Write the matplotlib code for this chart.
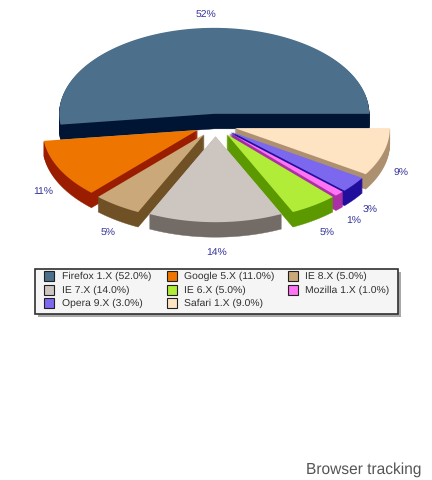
#!/usr/bin/env python3
import numpy as np
import matplotlib
matplotlib.use('Agg')
import matplotlib.pyplot as plt
from matplotlib.patches import Polygon, Rectangle

plt.rcParams['font.family'] = ['Liberation Sans', 'DejaVu Sans']
plt.rcParams['text.hinting'] = 'no_hinting'

browsers = ['Firefox 1.X', 'Google 5.X', 'IE 8.X', 'IE 7.X', 'IE 6.X', 'Mozilla 1.X', 'Opera 9.X', 'Safari 1.X']
shares = [52.0, 11.0, 5.0, 14.0, 5.0, 1.0, 3.0, 9.0]
top_colors = ['#4C708C', '#EE7600', '#CBA87A', '#CCC5C0', '#B0EC38', '#FF73F4', '#7B68EE', '#FFE4C4']
side_colors = ['#001533', '#9B1D00', '#6F5125', '#736B66', '#5C9900', '#AB2FA5', '#220E9C', '#AD9070']

# pie geometry, in pixels
cx, cy = 215.5, 125
rx, ry = 155, 86
explode = 0.13
depth = 15

label_xy = [(206, 15), (43, 192), (108, 233), (217, 253), (327, 233), (354, 221), (370, 210), (401, 173)]
legend_cols = [(44, 62), (167, 184), (288, 305)]
legend_rows = [276, 290, 303]


def wedge(a0, a1, dy=0):
    mid = np.radians((a0 + a1) / 2)
    x0 = cx + explode * rx * np.cos(mid)
    y0 = cy - explode * ry * np.sin(mid) + dy
    t = np.radians(np.linspace(a0, a1, 120))
    xs = np.r_[x0, x0 + rx * np.cos(t)]
    ys = np.r_[y0, y0 - ry * np.sin(t)]
    return np.column_stack([xs, ys])


fig = plt.figure(figsize=(4.32, 4.8), dpi=100)
ax = fig.add_axes([0, 0, 1, 1])
ax.set_xlim(0, 432)
ax.set_ylim(480, 0)
ax.axis('off')

edges = np.r_[0, np.cumsum(shares)] / 100 * 360
# the pie starts at 3 o'clock and the slices run counter-clockwise
slices = [(edges[i], edges[i + 1], i) for i in range(len(shares))]
# far slices first so the near ones sit on top
slices.sort(key=lambda s: -np.sin(np.radians((s[0] + s[1]) / 2)))

for a0, a1, i in slices:
    for d in range(depth, 0, -1):
        ax.add_patch(Polygon(wedge(a0, a1, d), closed=True, fc=side_colors[i], ec=side_colors[i], lw=0.3))
    ax.add_patch(Polygon(wedge(a0, a1), closed=True, fc=top_colors[i], ec='none'))

for (x, y), v in zip(label_xy, shares):
    ax.text(x, y, '%d%%' % v, color='#33339A', fontsize=7.5, ha='center', va='center')

# legend box with its shadow
ax.add_patch(Rectangle((38, 272), 363, 45, fc='#A8A8A8', ec='none'))
ax.add_patch(Rectangle((35, 269), 363, 45, fc='#F5F5F5', ec='#303030', lw=1.2))
for i, (name, v) in enumerate(zip(browsers, shares)):
    sx, tx = legend_cols[i % 3]
    y = legend_rows[i // 3]
    ax.add_patch(Rectangle((sx, y - 5), 10, 10, fc=top_colors[i], ec='#202020', lw=0.8))
    ax.text(tx, y + 0.5, '%s (%.1f%%)' % (name, v), color='#303030', fontsize=7.5, va='center')

ax.text(421, 470, 'Browser tracking', color='#555555', fontsize=11.2, ha='right', va='center')

fig.savefig('out.png', dpi=100)
